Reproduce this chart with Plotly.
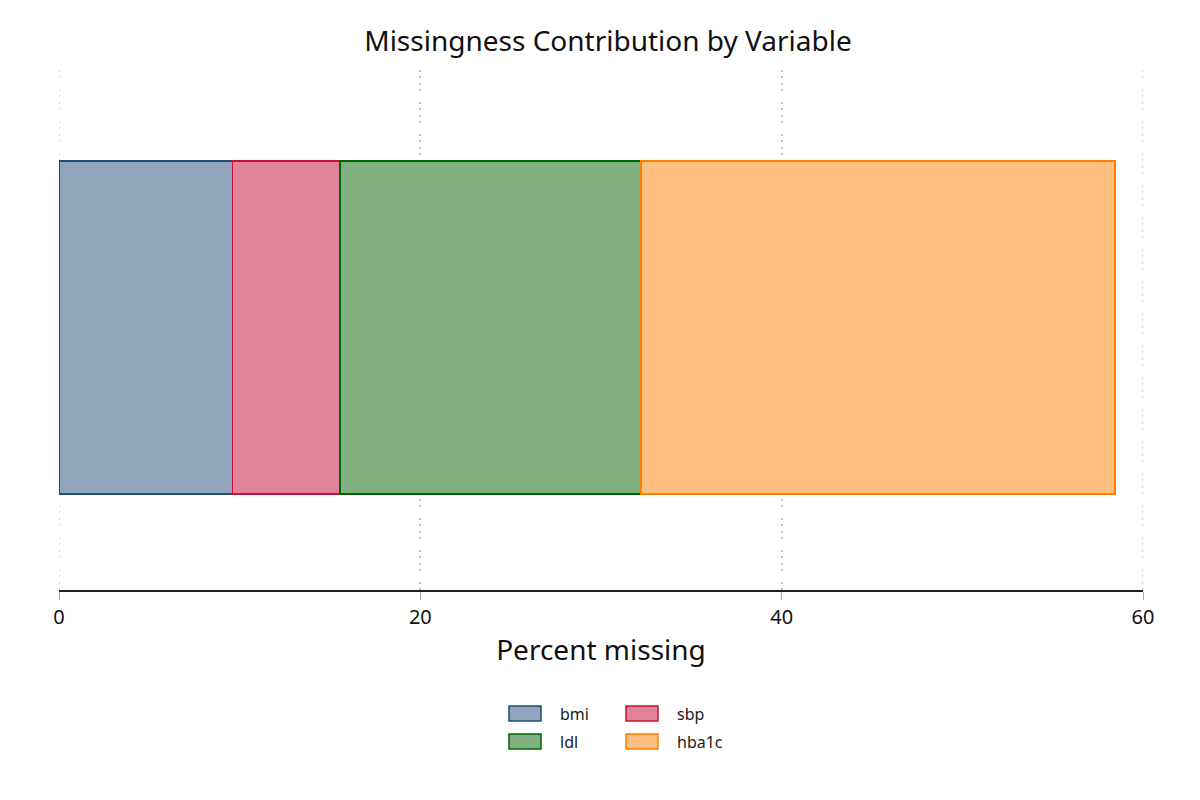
"""Stacked horizontal bar of missingness contribution per variable."""

import plotly.graph_objects as go

WIDTH = 1200
HEIGHT = 800
PAGE_OFFSET = 8  # body margin the browser adds around the figure div
MARGIN = {"l": 51, "r": 65, "t": 62, "b": 218}
FONT = "Noto Sans, DejaVu Sans, sans-serif"
GRID_COLOR = "#c4c4c4"
GRID_DASH = "2px,4px,2px,5px,2px,4px,2px,11px"

variables = ["bmi", "sbp", "ldl", "hba1c"]
percent_missing = [9.6, 5.95, 16.65, 26.25]
line_colors = ["#1f4e79", "#c8103a", "#006400", "#ff7f00"]
fill_colors = ["#8ea5bb", "#e08299", "#80b080", "#ffbf80"]
category = ["Missing"]
x_ticks = [0, 20, 40, 60]
x_range = [0, 60]

plot_w = WIDTH - MARGIN["l"] - MARGIN["r"]
plot_h = HEIGHT - MARGIN["t"] - MARGIN["b"]


def px_x(px: float) -> float:
    return (px - PAGE_OFFSET - MARGIN["l"]) / plot_w


def px_y(px: float) -> float:
    return (HEIGHT - MARGIN["b"] - (px - PAGE_OFFSET)) / plot_h


fig = go.Figure()
for name, value, line, fill in zip(variables, percent_missing, line_colors, fill_colors):
    fig.add_trace(
        go.Bar(
            x=[value],
            y=category,
            orientation="h",
            name=name,
            marker={"color": fill, "line": {"color": line, "width": 1.5}},
            hovertemplate=f"{name}: %{{x:.1f}}%<extra></extra>",
        )
    )

# plotly drops grid lines sitting on the range ends, so add those two by hand
for edge in x_range:
    fig.add_shape(
        type="line",
        xref="x",
        yref="paper",
        x0=edge,
        x1=edge,
        y0=0,
        y1=1,
        layer="below",
        line={"color": GRID_COLOR, "width": 1.5, "dash": GRID_DASH},
    )

# hand-drawn legend: two columns of wide swatches below the axis title
legend_cols = [509, 626]
legend_rows = [706, 734]
for i, (name, line, fill) in enumerate(zip(variables, line_colors, fill_colors)):
    left = legend_cols[i % 2]
    top = legend_rows[i // 2]
    fig.add_shape(
        type="rect",
        xref="paper",
        yref="paper",
        x0=px_x(left),
        x1=px_x(left + 32),
        y0=px_y(top),
        y1=px_y(top + 15),
        fillcolor=fill,
        line={"color": line, "width": 1.5},
    )
    fig.add_annotation(
        text=name,
        xref="paper",
        yref="paper",
        x=px_x(left + 49),
        y=px_y(top + 7.5),
        xanchor="left",
        yanchor="middle",
        showarrow=False,
        font={"size": 16, "color": "#1a1a1a"},
    )

fig.update_layout(
    width=WIDTH,
    height=HEIGHT,
    margin=MARGIN,
    barmode="stack",
    bargap=0.36,
    showlegend=False,
    paper_bgcolor="white",
    plot_bgcolor="white",
    font={"family": FONT, "color": "#111111"},
    title={
        "text": "Missingness Contribution by Variable",
        "x": 0.5,
        "xanchor": "center",
        "y": 0.958,
        "yanchor": "middle",
        "font": {"size": 28, "color": "#111111"},
    },
)
fig.update_xaxes(
    range=x_range,
    tickvals=x_ticks,
    tickfont={"size": 20},
    title={"text": "Percent missing", "font": {"size": 28}, "standoff": 12},
    showline=True,
    linecolor="#222222",
    linewidth=1.5,
    ticks="outside",
    ticklen=8,
    tickcolor="#aaaaaa",
    showgrid=True,
    gridcolor=GRID_COLOR,
    griddash=GRID_DASH,
    gridwidth=1.5,
    zeroline=False,
)
fig.update_yaxes(
    range=[-0.505, 0.495],
    visible=True,
    showline=False,
    showticklabels=False,
    ticks="",
    showgrid=False,
    zeroline=False,
)

fig.write_html("out.html")
